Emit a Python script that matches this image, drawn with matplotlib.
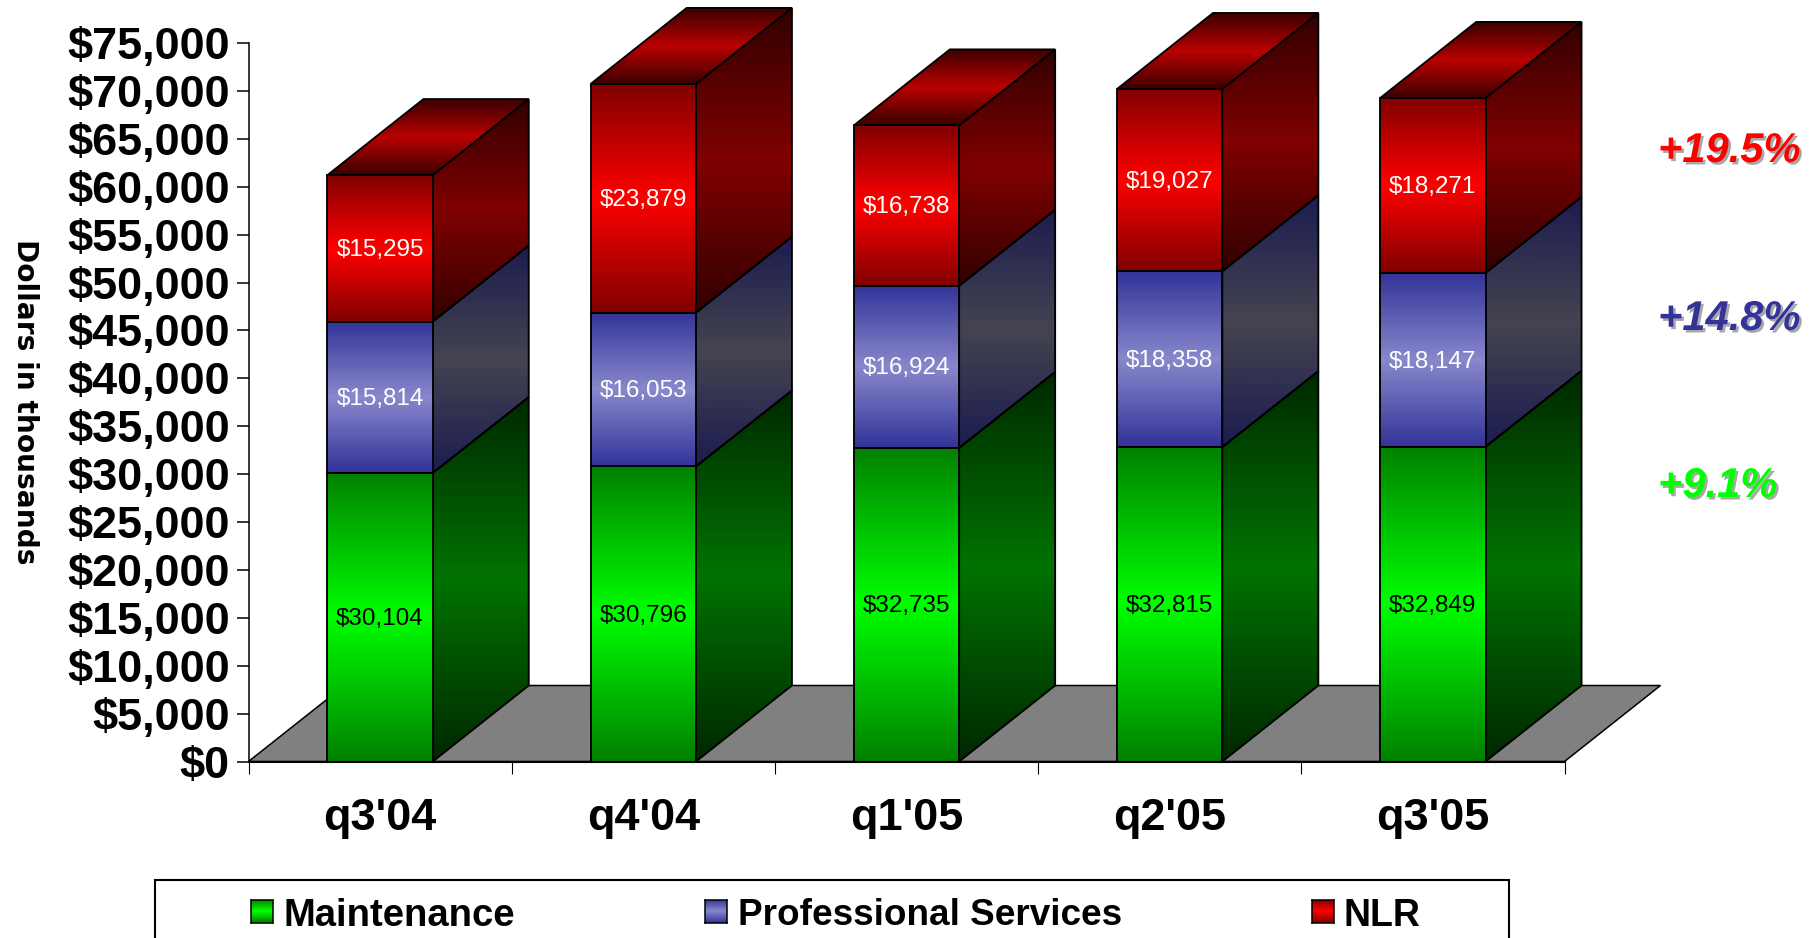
import numpy as np
import matplotlib
matplotlib.use('Agg')
import matplotlib.pyplot as plt
import matplotlib.patheffects as pe
from matplotlib.colors import LinearSegmentedColormap
from matplotlib.patches import Polygon, Rectangle

plt.rcParams['font.family'] = ['Liberation Sans', 'DejaVu Sans']

# data
quarters = ["q3'04", "q4'04", "q1'05", "q2'05", "q3'05"]
maintenance = [30104, 30796, 32735, 32815, 32849]
services = [15814, 16053, 16924, 18358, 18147]
nlr = [15295, 23879, 16738, 19027, 18271]
y_ticks = list(range(0, 80000, 5000))
growth_labels = ['+19.5%', '+14.8%', '+9.1%']
growth_colors = ['#ff0000', '#333399', '#00ff00']
legend_names = ['Maintenance', 'Professional Services', 'NLR']

# layout, in pixels of the 1816x938 picture
W, H = 1816, 938
X0, X1 = 248.5, 1564.5
Y0, Y75 = 761.5, 43
px_per_cat = (X1 - X0) / len(quarters)
px_per_dollar = (Y0 - Y75) / 75000
BAR_W = 0.4
DEPTH_X = 96 / px_per_cat
DEPTH_Y = 76 / px_per_dollar
LW = 1.35

# (edge colour, middle colour) of each gradient
front = {'green': ('#008000', '#00ff00'), 'blue': ('#333399', '#8888cc'), 'red': ('#800000', '#ff0000')}
side = {'green': ('#002800', '#007300'), 'blue': ('#1c1c50', '#444450'), 'red': ('#320000', '#800000')}
top_face = ('#3c0000', '#b90000')


def gradient_poly(ax, verts, colors, z):
    xs = [v[0] for v in verts]
    ys = [v[1] for v in verts]
    cmap = LinearSegmentedColormap.from_list('g', [colors[0], colors[1], colors[0]])
    im = ax.imshow(np.linspace(0, 1, 256)[:, None], extent=(min(xs), max(xs), min(ys), max(ys)),
                   origin='lower', aspect='auto', cmap=cmap, zorder=z, interpolation='bilinear')
    poly = Polygon(verts, closed=True, fc='none', ec='black', lw=LW, zorder=z + 0.1, joinstyle='miter')
    ax.add_patch(poly)
    im.set_clip_path(poly)


fig = plt.figure(figsize=(W / 100, H / 100), dpi=100)
ax = fig.add_axes([0, 0, 1, 1])
ax.patch.set_visible(False)

# grey floor
ax.add_patch(Polygon([(0, 0), (DEPTH_X, DEPTH_Y), (5 + DEPTH_X, DEPTH_Y), (5, 0)], closed=True,
                     fc='#808080', ec='black', lw=1.1, zorder=1))

series = [(maintenance, 'green', 'black'), (services, 'blue', 'white'), (nlr, 'red', 'white')]
for i in range(len(quarters)):
    left = i + 0.5 - BAR_W / 2
    right = left + BAR_W
    bottom = 0
    for values, color, text_color in series:
        t = bottom + values[i]
        gradient_poly(ax, [(right, bottom), (right + DEPTH_X, bottom + DEPTH_Y),
                           (right + DEPTH_X, t + DEPTH_Y), (right, t)], side[color], 1.2)
        gradient_poly(ax, [(left, bottom), (right, bottom), (right, t), (left, t)], front[color], 1.5)
        ax.annotate(f'${values[i]:,}', (i + 0.5, bottom + values[i] / 2), xytext=(0, -1.2),
                    textcoords='offset points', color=text_color, fontsize=17.5,
                    ha='center', va='center', zorder=5)
        bottom = t
    gradient_poly(ax, [(left, bottom), (right, bottom), (right + DEPTH_X, bottom + DEPTH_Y),
                       (left + DEPTH_X, bottom + DEPTH_Y)], top_face, 1.3)

# axes
for s in ('top', 'right'):
    ax.spines[s].set_visible(False)
ax.spines['left'].set_position(('data', 0))
ax.spines['left'].set_bounds(0, 75000)
ax.spines['bottom'].set_position(('data', 0))
ax.spines['bottom'].set_bounds(0, 5)
ax.spines['left'].set_linewidth(1.1)
ax.spines['bottom'].set_linewidth(1.5)
ax.set_yticks(y_ticks)
ax.set_yticklabels([f'${v:,}' for v in y_ticks], fontsize=32.4, fontweight='bold')
ax.tick_params(axis='y', length=8.6, width=1.1, pad=5)
ax.set_xticks(range(len(quarters) + 1))
ax.set_xticklabels([])
ax.set_xticks([i + 0.5 for i in range(len(quarters))], minor=True)
ax.set_xticklabels(quarters, minor=True, fontsize=32.4, fontweight='bold')
ax.tick_params(axis='x', which='major', length=8.6, width=0.8)
ax.tick_params(axis='x', which='minor', length=0, pad=26)
ax.set_xlim(-X0 / px_per_cat, (W - X0) / px_per_cat)
ax.set_ylim(-(H - Y0) / px_per_dollar, Y0 / px_per_dollar)

fig.text(25 / W, 1 - 402 / H, 'Dollars in thousands', rotation=270, family=['DejaVu Sans'],
         fontsize=20.2, fontweight='bold', ha='center', va='center')

# growth figures on the right
for label, color, y in zip(growth_labels, growth_colors, [151, 319, 486]):
    fig.text(1658 / W, 1 - y / H, label, color=color, fontsize=30, fontweight='bold', style='italic',
             ha='left', va='center',
             path_effects=[pe.withSimplePatchShadow(offset=(1.8, -1.8), shadow_rgbFace='#a8a8a8', alpha=1)])

# legend, its box runs off the bottom of the picture
ax.add_patch(Rectangle((155 / W, -0.02), (1509 - 155) / W, 1 - 880 / H + 0.02, transform=ax.transAxes,
                       fc='white', ec='black', lw=1.5, clip_on=False, zorder=6))
legend_colors = ['green', 'blue', 'red']
legend_sizes = [27.5, 26.6, 27]
for name, color, sx, tx, fs in zip(legend_names, legend_colors, [251, 705, 1312], [284, 738, 1344], legend_sizes):
    sw = fig.add_axes([sx / W, 1 - 923 / H, 22 / W, 23 / H], zorder=7)
    cmap = LinearSegmentedColormap.from_list('s', [front[color][0], front[color][1], front[color][0]])
    sw.imshow(np.linspace(0, 1, 64)[:, None], aspect='auto', cmap=cmap)
    sw.set_xticks([])
    sw.set_yticks([])
    for sp in sw.spines.values():
        sp.set_linewidth(1.1)
    fig.text(tx / W, 1 - 915.5 / H, name, fontsize=fs, fontweight='bold', ha='left', va='center', zorder=8)

fig.savefig('out.png', dpi=100)
